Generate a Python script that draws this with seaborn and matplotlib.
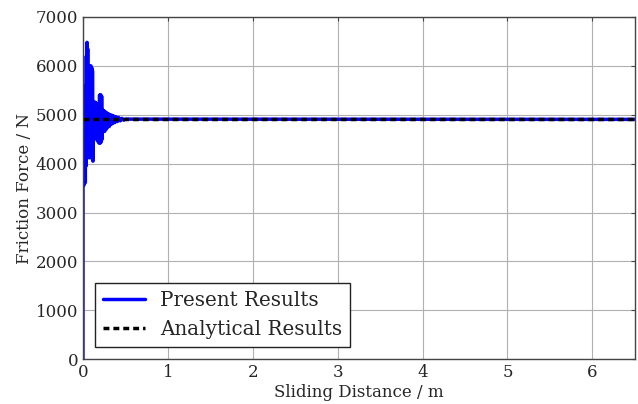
import pandas as pd
import seaborn as sns
import matplotlib.pyplot as plt

# sliding distance (m) and friction force (N)
distance = [0.000, 0.001, 0.004, 0.008, 0.012, 0.016, 0.020, 0.024, 0.028,
            0.032, 0.036, 0.040, 0.044, 0.048, 0.052, 0.056, 0.060, 0.064,
            0.068, 0.072, 0.076, 0.080, 0.084, 0.088, 0.092, 0.096, 0.100,
            0.104, 0.108, 0.112, 0.118, 0.124, 0.130, 0.136, 0.142, 0.148,
            0.154, 0.160, 0.166, 0.172, 0.178, 0.184, 0.190, 0.196, 0.202,
            0.208, 0.214, 0.220, 0.226, 0.232, 0.240, 0.248, 0.256, 0.264,
            0.272, 0.280, 0.290, 0.300, 0.310, 0.320, 0.330, 0.340, 0.350,
            0.360, 0.375, 0.390, 0.405, 0.420, 0.440, 0.460, 0.480, 0.500,
            6.500]
force = [0, 5500, 3650, 5480, 3560, 5500, 3600, 5470, 3620,
         5600, 3950, 6200, 4100, 6480, 4150, 6350, 4140, 5950,
         4150, 5700, 4120, 5980, 4140, 6000, 4130, 5990, 4150,
         5960, 4100, 5900, 4050, 5200, 4560, 5260, 4590, 5250,
         4600, 5230, 4480, 5200, 4450, 5180, 4420, 5400, 4420,
         5410, 4440, 5380, 4500, 5100, 4650, 5080, 4660, 5060,
         4700, 5040, 4740, 5020, 4760, 5000, 4800, 4990, 4820,
         4975, 4840, 4960, 4860, 4945, 4875, 4925, 4890, 4910,
         4905]

analytic_x = [0.0, 6.5]
analytic_f = [4905, 4905]

present = pd.DataFrame({'Sliding Distance': distance, 'Friction Force': force})
analytic = pd.DataFrame({'Sliding Distance': analytic_x, 'Friction Force': analytic_f})

sns.set_style('white')
plt.rcParams['font.family'] = ['DejaVu Serif']
plt.rcParams['xtick.direction'] = 'in'
plt.rcParams['ytick.direction'] = 'in'

fig = plt.figure(figsize=(6.38, 4.04), dpi=100)
ax = fig.add_axes([0.130, 0.111, 0.865, 0.847])

sns.lineplot(data=present, x='Sliding Distance', y='Friction Force', ax=ax,
             estimator=None, sort=False, color='#0000ff', linewidth=2.5,
             label='Present Results')
sns.lineplot(data=analytic, x='Sliding Distance', y='Friction Force', ax=ax,
             estimator=None, color='black', linewidth=2.5,
             dashes=False, label='Analytical Results')
ax.lines[1].set_linestyle((0, (1.7, 1.15)))

ax.set_xlim(0, 6.5)
ax.set_ylim(0, 7000)
ax.set_xticks([0, 1, 2, 3, 4, 5, 6])
ax.set_yticks(range(0, 7001, 1000))
ax.grid(True, color='#b0b0b0', linewidth=0.8)
ax.set_axisbelow(True)
ax.tick_params(labelsize=12, top=True, right=True, length=3, color='#444444')
for s in ax.spines.values():
    s.set_color('#444444')
    s.set_linewidth(1.0)

ax.set_xlabel('Sliding Distance / m', fontsize=12, labelpad=2)
ax.set_ylabel('Friction Force / N', fontsize=12, labelpad=2)

leg = ax.legend(loc='lower left', fontsize=14.3, fancybox=False, framealpha=1,
                edgecolor='#222222', handlelength=2.1, borderaxespad=0.6)
leg.get_frame().set_linewidth(1.0)

plt.savefig('out.png')
plt.close()
